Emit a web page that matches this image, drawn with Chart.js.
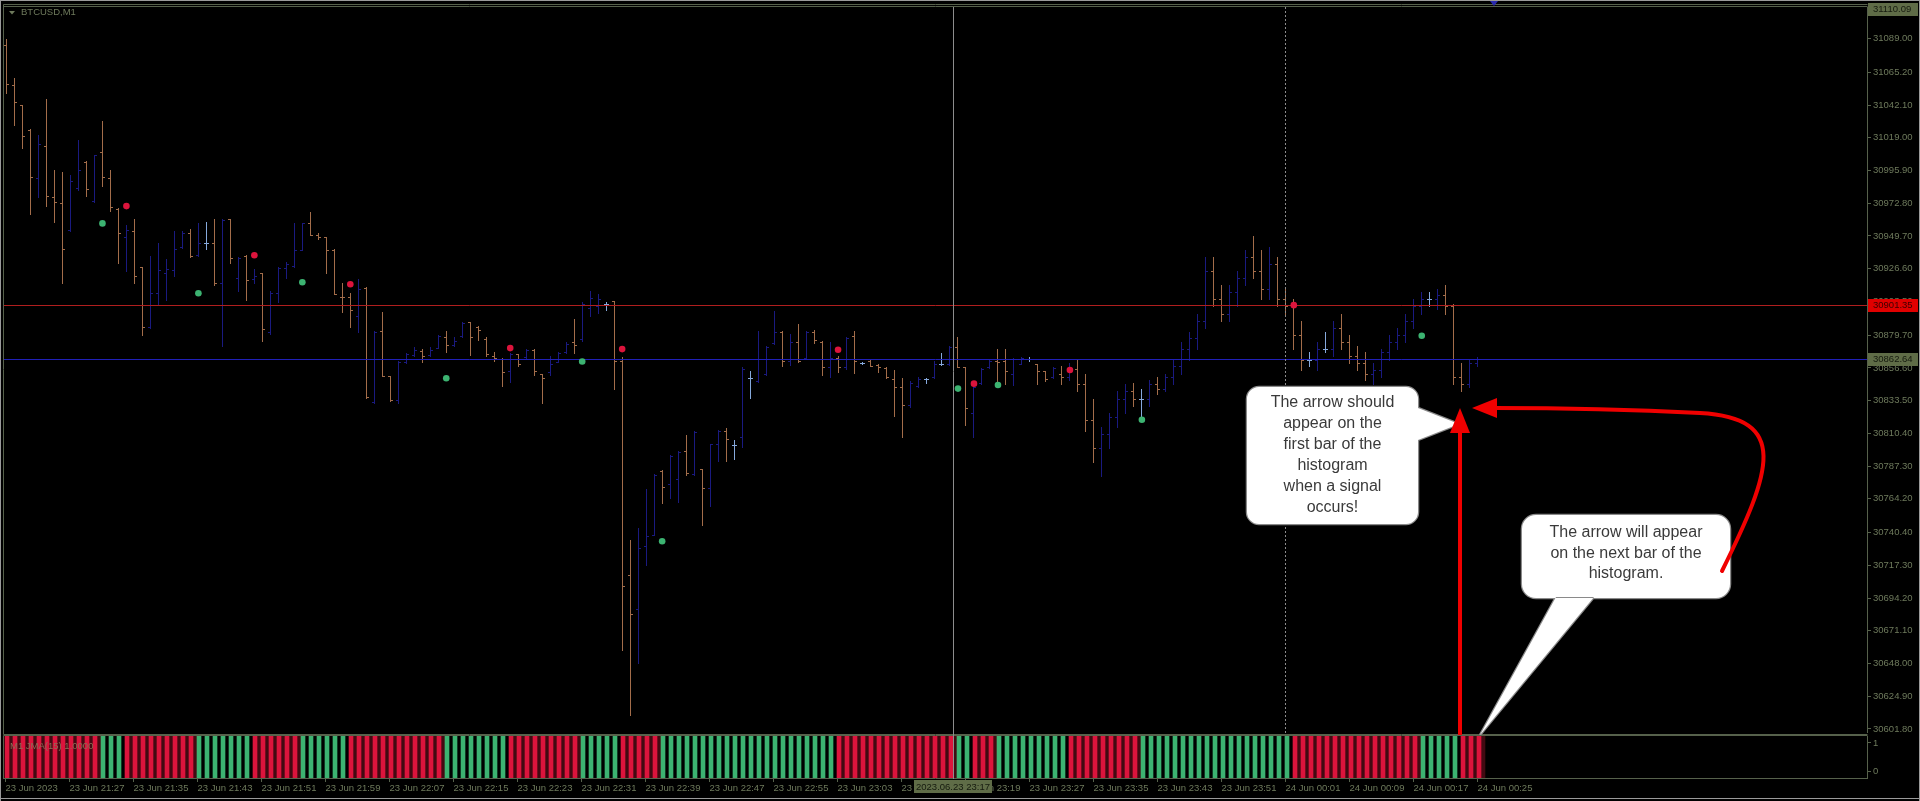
<!DOCTYPE html>
<html>
<head>
<meta charset="utf-8">
<title>BTCUSD,M1</title>
<script src="https://cdn.jsdelivr.net/npm/chart.js@4.4.1/dist/chart.umd.min.js"></script>
<style>
  html, body { margin: 0; padding: 0; background: #000; overflow: hidden; }
  #wrap { position: relative; width: 1920px; height: 801px; background: #000; }
  #wrap canvas { position: absolute; left: 0; }
  #main { top: 0; }
  #hist { top: 734px; }
</style>
</head>
<body>
<div id="wrap">
  <canvas id="main" width="1920" height="736"></canvas>
  <canvas id="hist" width="1920" height="67"></canvas>
</div>
<script>
// M1 bars, index 0 = 23 Jun 21:19
var opens = [
 31084.6,31056.4,31041.8,31024.3,30990.3,31013.0,30977.1,30973.2,30953.7,30983.7,
 31002.0,30974.3,31009.1,30990.3,30968.9,30949.2,30953.2,30928.1,30885.2,30909.8,
 30923.4,30925.7,30942.2,30952.0,30936.3,30945.0,30944.5,30916.4,30961.4,30919.9,
 30935.6,30919.2,30923.9,30881.7,30909.8,30927.4,30928.5,30939.8,30958.6,30950.2,
 30949.2,30939.8,30907.0,30906.3,30892.9,30913.3,30832.4,30882.8,30850.7,30834.2,
 30861.0,30865.7,30868.7,30865.7,30870.4,30878.2,30872.7,30879.3,30889.1,30885.6,
 30877.0,30865.2,30862.9,30854.2,30866.4,30864.1,30869.4,30852.3,30854.0,30861.0,
 30868.0,30874.6,30876.8,30898.6,30900.4,30901.6,30903.7,30861.7,30710.4,30686.5,
 30730.6,30738.5,30783.6,30774.9,30778.4,30797.7,30782.0,30785.0,30771.9,30802.6,
 30812.4,30802.4,30807.8,30849.3,30847.6,30852.3,30874.1,30881.7,30861.7,30874.6,
 30863.4,30881.7,30874.6,30857.0,30863.4,30857.0,30879.3,30860.1,30861.7,30858.7,
 30856.3,30848.8,30843.0,30830.5,30843.7,30848.8,30850.0,30859.4,30859.4,30871.1,
 30857.0,30824.9,30846.0,30857.0,30861.7,30861.7,30852.3,30859.6,30862.9,30859.4,
 30854.7,30850.0,30852.0,30850.0,30856.0,30845.0,30820.0,30800.0,30810.0,30822.0,
 30835.0,30840.0,30835.0,30835.0,30845.0,30842.0,30850.0,30858.0,30870.0,30878.0,
 30890.0,30925.0,30905.0,30895.0,30910.0,30920.0,30935.0,30925.0,30912.0,30930.0,
 30905.0,30900.0,30880.0,30862.0,30862.0,30870.0,30870.0,30885.0,30875.0,30865.0,
 30860.0,30852.0,30855.0,30868.0,30875.0,30880.0,30890.0,30900.0,30905.0,30905.0,
 30908.0,30900.0,30850.0,30845.0,30860.0
];
var highs = [
 31088.8,31061.1,31042.3,31025.5,31021.2,31046.6,30996.6,30995.0,30992.4,31017.7,
 31002.4,31007.2,31030.6,30996.6,30969.2,30957.2,30961.9,30928.1,30935.6,30945.0,
 30933.3,30953.2,30953.2,30954.9,30959.1,30959.8,30961.9,30961.4,30961.9,30935.2,
 30936.1,30926.2,30923.9,30911.0,30928.1,30931.4,30958.6,30959.1,30966.8,30952.0,
 30949.2,30940.8,30916.4,30909.3,30919.2,30913.8,30882.8,30896.2,30850.7,30861.7,
 30867.1,30871.1,30869.9,30871.1,30879.8,30882.8,30878.2,30888.7,30889.1,30886.3,
 30878.2,30867.6,30863.4,30867.1,30866.4,30869.9,30869.9,30852.3,30865.2,30867.6,
 30874.6,30891.0,30903.2,30911.0,30908.6,30903.2,30903.9,30864.3,30735.0,30743.3,
 30771.4,30782.0,30784.3,30795.3,30797.7,30809.4,30812.4,30785.5,30803.1,30812.9,
 30814.3,30805.4,30857.0,30854.7,30882.8,30871.8,30896.9,30882.8,30880.5,30887.5,
 30882.4,30883.5,30875.8,30874.6,30864.8,30878.2,30882.4,30860.8,30862.2,30859.4,
 30857.0,30855.4,30849.3,30847.6,30850.0,30849.5,30861.7,30867.1,30872.2,30878.2,
 30857.0,30843.7,30856.3,30862.9,30869.9,30869.9,30863.4,30864.1,30864.1,30859.4,
 30854.7,30857.0,30858.0,30860.0,30862.0,30852.0,30835.0,30815.0,30825.0,30840.0,
 30845.0,30846.0,30842.0,30848.0,30850.0,30852.0,30862.0,30875.0,30882.0,30895.0,
 30935.0,30935.0,30915.0,30915.0,30925.0,30940.0,30950.0,30940.0,30942.0,30935.0,
 30912.0,30905.0,30890.0,30868.0,30875.0,30882.0,30890.0,30895.0,30880.0,30872.0,
 30868.0,30860.0,30870.0,30880.0,30885.0,30895.0,30905.0,30910.0,30910.0,30912.0,
 30915.0,30902.0,30860.0,30862.0,30864.0
];
var lows = [
 31050.8,31028.3,31011.9,30964.9,30977.1,30970.8,30959.5,30916.2,30953.2,30982.5,
 30977.8,30973.6,30985.3,30967.3,30930.9,30925.0,30916.2,30879.8,30884.5,30901.6,
 30904.6,30921.5,30941.5,30935.2,30935.6,30940.3,30915.0,30871.8,30930.4,30911.0,
 30904.6,30916.4,30875.8,30880.5,30902.8,30920.4,30928.1,30939.8,30950.2,30947.3,
 30923.4,30908.6,30895.8,30885.2,30882.1,30835.2,30831.9,30850.7,30833.5,30831.9,
 30860.4,30865.0,30861.0,30865.2,30870.4,30868.0,30872.2,30878.2,30865.9,30876.5,
 30865.2,30861.3,30843.7,30846.9,30857.8,30863.4,30851.8,30831.9,30851.6,30860.6,
 30867.1,30867.1,30875.8,30893.5,30895.3,30897.6,30841.8,30657.6,30611.9,30648.2,
 30717.4,30738.5,30761.6,30764.9,30762.0,30780.8,30781.3,30745.6,30759.2,30790.6,
 30790.6,30792.0,30800.7,30835.2,30846.9,30851.6,30873.4,30857.8,30858.7,30861.0,
 30862.9,30874.1,30851.6,30850.0,30854.0,30855.9,30853.0,30859.4,30857.8,30853.5,
 30849.3,30823.0,30807.8,30828.9,30843.0,30846.0,30849.3,30858.7,30858.7,30857.0,
 30816.4,30807.8,30845.3,30856.3,30846.0,30845.3,30844.6,30859.4,30861.5,30845.3,
 30847.6,30849.3,30845.0,30848.0,30840.0,30812.0,30790.0,30780.0,30800.0,30815.0,
 30825.0,30830.0,30820.0,30830.0,30838.0,30840.0,30845.0,30852.0,30862.0,30870.0,
 30885.0,30900.0,30890.0,30890.0,30900.0,30915.0,30920.0,30905.0,30905.0,30900.0,
 30895.0,30870.0,30855.0,30858.0,30855.0,30868.0,30865.0,30870.0,30860.0,30855.0,
 30848.0,30845.0,30850.0,30862.0,30870.0,30875.0,30885.0,30895.0,30900.0,30898.0,
 30895.0,30845.0,30840.0,30843.0,30858.0
];
var closes = [
 31057.1,31044.2,31020.3,30991.5,31014.9,30977.8,30973.6,30940.8,30988.4,30996.6,
 30983.0,31006.7,30991.5,30970.3,30951.6,30953.7,30921.5,30885.2,30909.8,30925.7,
 30926.2,30940.8,30952.0,30935.6,30945.0,30945.0,30916.4,30960.9,30934.0,30934.5,
 30918.7,30921.5,30884.0,30909.8,30927.4,30929.7,30939.8,30958.6,30950.2,30949.2,
 30939.8,30908.6,30906.3,30897.6,30912.2,30835.9,30882.1,30850.7,30834.2,30861.0,
 30866.1,30869.2,30865.2,30869.4,30878.9,30873.0,30875.8,30888.2,30878.2,30883.5,
 30866.4,30863.6,30853.5,30866.4,30859.4,30869.4,30854.2,30849.5,30859.4,30866.9,
 30873.4,30873.0,30901.6,30905.6,30905.1,30901.6,30861.7,30702.9,30682.7,30729.2,
 30738.1,30781.3,30772.6,30794.8,30797.2,30782.7,30811.7,30771.9,30802.6,30812.4,
 30806.1,30802.4,30855.9,30849.3,30862.9,30871.1,30881.7,30861.7,30874.6,30861.7,
 30881.7,30876.5,30857.0,30863.4,30857.0,30877.5,30861.7,30860.1,30858.2,30857.0,
 30850.0,30843.0,30830.5,30846.0,30848.8,30848.8,30859.4,30859.4,30871.1,30857.5,
 30828.2,30843.0,30855.9,30861.7,30861.0,30854.7,30862.9,30863.4,30862.9,30854.7,
 30848.8,30856.3,30850.0,30856.0,30845.0,30820.0,30800.0,30810.0,30822.0,30835.0,
 30840.0,30835.0,30835.0,30845.0,30842.0,30850.0,30858.0,30870.0,30878.0,30890.0,
 30925.0,30905.0,30895.0,30910.0,30920.0,30935.0,30925.0,30912.0,30930.0,30905.0,
 30900.0,30880.0,30862.0,30862.0,30870.0,30870.0,30885.0,30875.0,30865.0,30860.0,
 30852.0,30855.0,30868.0,30875.0,30880.0,30890.0,30900.0,30905.0,30905.0,30908.0,
 30900.0,30850.0,30845.0,30860.0,30862.64
];

// histogram colour per bar: R = sell state, G = buy state
var histSignal = (
  'RRRRRRRRRRRR' + 'GGG' + 'RRRRRRRRR' + 'GGGGGGG' + 'RRRRRR' + 'GGGGGG' +
  'RRRRRRRRRRRR' + 'GGGGGGGG' + 'RRRRRRRRR' + 'GGGGG' + 'RRRRR' +
  'GGGGGGGGGG' + 'GGGGGGGGGG' + 'GG' +
  'RRRRRRRRRR' + 'RRRRR' + 'GG' + 'RRR' + 'GGGGGGGGG' + 'RRRRRRRRR' +
  'GGGGGGGGGG' + 'GGGGGGGGG' + 'RRRRRRRRRR' + 'RRRRRR' + 'GGGGG' + 'RRR'
).split('');

// signal dots on the price chart
var sigIdx   = [12, 15, 24, 31, 37, 43, 55, 63, 72, 77, 82, 104, 119, 121, 124, 133, 142, 161, 177];
var sigPrice = [30958.6, 30970.8, 30909.3, 30936.1, 30917.1, 30915.7, 30849.3, 30870.6, 30861.1, 30869.9,
                30734.3, 30869.4, 30842.0, 30845.5, 30844.6, 30855.1, 30820.0, 30900.9, 30879.3];
var sigType  = ['G','R','G','R','G','R','G','R','G','R','G','R','G','R','G','R','G','R','G'];

var priceTicks = [31089.00, 31065.20, 31042.10, 31019.00, 30995.90, 30972.80, 30949.70, 30926.60,
                  30903.50, 30879.70, 30856.60, 30833.50, 30810.40, 30787.30, 30764.20, 30740.40,
                  30717.30, 30694.20, 30671.10, 30648.00, 30624.90, 30601.80];
var timeTickIdx = [0, 8, 16, 24, 32, 40, 48, 56, 64, 72, 80, 88, 96, 104, 112, 120,
                   128, 136, 144, 152, 160, 168, 176, 184];
var timeTickLabels = ['23 Jun 2023', '23 Jun 21:27', '23 Jun 21:35', '23 Jun 21:43', '23 Jun 21:51',
  '23 Jun 21:59', '23 Jun 22:07', '23 Jun 22:15', '23 Jun 22:23', '23 Jun 22:31', '23 Jun 22:39',
  '23 Jun 22:47', '23 Jun 22:55', '23 Jun 23:03', '23 Jun 23:11', '23 Jun 23:19', '23 Jun 23:27',
  '23 Jun 23:35', '23 Jun 23:43', '23 Jun 23:51', '24 Jun 00:01', '24 Jun 00:09', '24 Jun 00:17',
  '24 Jun 00:25'];

var redLevel = 30901.35;
var bidLevel = 30862.64;
var topPrice = 31110.09;
var crossLabel = '2023.06.23 23:17';

var FG = '#6e7a5c', FRAME = '#56614b', BOX = '#5f6c47', BOXTXT = '#151a0e';
var UP = '#1a1a80', DN = '#a36d4a', DOJI = '#86a9dc';
var HRED = '#dc143c', HGREEN = '#3cb371', HRED_GAP = '#420a12';
var FONT = '"Liberation Sans", Arial, sans-serif';

Chart.defaults.font.family = FONT;
Chart.defaults.font.size = 9.5;
Chart.defaults.color = FG;

var XMIN = -0.3125, XMAX = 232.6875;

// keep the plot areas exactly where the terminal puts them
function noPad(s) { s.paddingTop = 0; s.paddingBottom = 0; s.paddingLeft = 0; s.paddingRight = 0; }

var ohlcPlugin = {
  id: 'ohlc',
  beforeDatasetsDraw: function (chart) {
    var ctx = chart.ctx, x = chart.scales.x, y = chart.scales.y, a = chart.chartArea;
    ctx.save();
    ctx.beginPath();
    ctx.rect(a.left, a.top, a.right - a.left, a.bottom - a.top);
    ctx.clip();
    for (var i = 0; i < opens.length; i++) {
      var px = Math.floor(x.getPixelForValue(i));
      var yh = Math.round(y.getPixelForValue(highs[i]));
      var yl = Math.round(y.getPixelForValue(lows[i]));
      var yo = Math.round(y.getPixelForValue(opens[i]));
      var yc = Math.round(y.getPixelForValue(closes[i]));
      ctx.fillStyle = closes[i] > opens[i] ? UP : (closes[i] < opens[i] ? DN : DOJI);
      ctx.fillRect(px, yh, 1, Math.max(1, yl - yh + 1));
      ctx.fillRect(px - 2, yo, 2, 1);
      ctx.fillRect(px + 1, yc, 2, 1);
    }
    // horizontal levels
    var yr = Math.round(y.getPixelForValue(redLevel)) + 0.5;
    var yb = Math.round(y.getPixelForValue(bidLevel)) + 0.5;
    ctx.lineWidth = 1;
    ctx.strokeStyle = '#b01e1e';
    ctx.beginPath(); ctx.moveTo(a.left, yr); ctx.lineTo(a.right, yr); ctx.stroke();
    ctx.strokeStyle = '#2020b8';
    ctx.beginPath(); ctx.moveTo(a.left, yb); ctx.lineTo(a.right, yb); ctx.stroke();
    ctx.restore();
  }
};

function priceBox(ctx, yPix, text, fill, color) {
  ctx.fillStyle = fill;
  ctx.fillRect(1868, Math.round(yPix) - 6, 50, 13);
  ctx.fillStyle = color;
  ctx.textAlign = 'left';
  ctx.textBaseline = 'middle';
  ctx.fillText(text, 1873, Math.round(yPix) + 0.5);
}

function callout(ctx, box, tail, lines, lineTop, lineH) {
  ctx.save();
  ctx.beginPath();
  ctx.roundRect(box.x, box.y, box.w, box.h, box.r);
  ctx.moveTo(tail[0][0], tail[0][1]);
  ctx.lineTo(tail[1][0], tail[1][1]);
  ctx.lineTo(tail[2][0], tail[2][1]);
  ctx.closePath();
  ctx.lineWidth = 2.5;
  ctx.strokeStyle = '#8a8a8a';
  ctx.stroke();
  ctx.fillStyle = '#ffffff';
  ctx.fill();
  ctx.fillStyle = '#3a3a3a';
  ctx.font = '16px ' + FONT;
  ctx.textAlign = 'center';
  ctx.textBaseline = 'middle';
  for (var i = 0; i < lines.length; i++) {
    ctx.fillText(lines[i], box.x + box.w / 2, lineTop + i * lineH);
  }
  ctx.restore();
}

var overlayMain = {
  id: 'overlayMain',
  afterDraw: function (chart) {
    var ctx = chart.ctx, y = chart.scales.y;
    ctx.save();
    // window borders
    ctx.fillStyle = '#9a9a9a';
    ctx.fillRect(0, 0, 1920, 1);
    ctx.fillRect(0, 0, 1, 736);
    ctx.fillRect(1919, 0, 1, 736);
    ctx.strokeStyle = FRAME;
    ctx.lineWidth = 1;
    ctx.beginPath();
    ctx.moveTo(3.5, 4.5); ctx.lineTo(1867.5, 4.5);
    ctx.moveTo(3.5, 6.5); ctx.lineTo(1867.5, 6.5);
    ctx.moveTo(3.5, 4.5); ctx.lineTo(3.5, 734.5);
    ctx.moveTo(3.5, 734.5); ctx.lineTo(1867.5, 734.5);
    ctx.stroke();

    // title
    ctx.fillStyle = FG;
    ctx.beginPath(); ctx.moveTo(9, 11); ctx.lineTo(15, 11); ctx.lineTo(12, 14.5); ctx.closePath(); ctx.fill();
    ctx.font = '9.5px ' + FONT;
    ctx.textAlign = 'left'; ctx.textBaseline = 'middle';
    ctx.fillText('BTCUSD,M1', 21, 12.5);

    // crosshair and period separator
    ctx.strokeStyle = '#8c8c8c';
    ctx.beginPath(); ctx.moveTo(953.5, 7); ctx.lineTo(953.5, 736); ctx.stroke();
    var xs = Math.floor(chart.scales.x.getPixelForValue(160)) + 0.5;
    ctx.setLineDash([2, 2]);
    ctx.beginPath(); ctx.moveTo(xs, 7); ctx.lineTo(xs, 734); ctx.stroke();
    ctx.setLineDash([]);

    // price labels on the axis
    ctx.font = '9.5px ' + FONT;
    priceBox(ctx, y.getPixelForValue(topPrice), topPrice.toFixed(2), BOX, BOXTXT);
    priceBox(ctx, y.getPixelForValue(redLevel), redLevel.toFixed(2), '#e00000', '#3a0000');
    priceBox(ctx, y.getPixelForValue(bidLevel), bidLevel.toFixed(2), BOX, BOXTXT);

    // small object marker at top
    ctx.fillStyle = '#2a2ab0';
    ctx.beginPath(); ctx.moveTo(1490, 1); ctx.lineTo(1498, 1); ctx.lineTo(1494, 6); ctx.closePath(); ctx.fill();

    // annotations pasted on the screenshot
    callout(ctx, {x: 1247, y: 387, w: 171, h: 137, r: 12},
      [[1418, 408], [1459, 424], [1418, 440]],
      ['The arrow should', 'appear on the', 'first bar of the', 'histogram', 'when a signal', 'occurs!'],
      403, 21);
    callout(ctx, {x: 1522, y: 515, w: 208, h: 83, r: 14},
      [[1556, 597], [1480, 735], [1594, 597]],
      ['The arrow will appear', 'on the next bar of the', 'histogram.'],
      533, 20.5);

    ctx.fillStyle = '#f00000';
    ctx.strokeStyle = '#f00000';
    // vertical arrow
    ctx.fillRect(1458, 430, 4, 306);
    ctx.beginPath(); ctx.moveTo(1460, 408); ctx.lineTo(1450, 433); ctx.lineTo(1470, 433); ctx.closePath(); ctx.fill();
    // curved arrow
    ctx.lineWidth = 4;
    ctx.lineCap = 'round';
    ctx.beginPath();
    ctx.moveTo(1722, 571);
    ctx.bezierCurveTo(1772, 470, 1790, 418, 1700, 413);
    ctx.quadraticCurveTo(1600, 408, 1494, 408);
    ctx.stroke();
    ctx.beginPath(); ctx.moveTo(1472, 408); ctx.lineTo(1497, 398); ctx.lineTo(1497, 418); ctx.closePath(); ctx.fill();
    ctx.restore();
  }
};

var overlayHist = {
  id: 'overlayHist',
  afterDraw: function (chart) {
    var ctx = chart.ctx;
    ctx.save();
    ctx.fillStyle = '#9a9a9a';
    ctx.fillRect(0, 0, 1, 67);
    ctx.fillRect(1919, 0, 1, 67);
    ctx.fillRect(0, 64, 1920, 1);
    ctx.strokeStyle = FRAME;
    ctx.lineWidth = 1;
    ctx.beginPath();
    ctx.moveTo(3.5, 1.5); ctx.lineTo(1867.5, 1.5);
    ctx.moveTo(3.5, 1.5); ctx.lineTo(3.5, 44.5);
    ctx.stroke();
    ctx.font = '9.5px ' + FONT;
    ctx.textAlign = 'left'; ctx.textBaseline = 'middle';
    ctx.fillStyle = '#8c6c55';
    ctx.fillText('M1 JMA(15) 1.0000', 10, 12);
    // crosshair
    ctx.strokeStyle = '#8c8c8c';
    ctx.beginPath(); ctx.moveTo(953.5, 0); ctx.lineTo(953.5, 45); ctx.stroke();
    ctx.fillStyle = BOX;
    ctx.fillRect(914, 46, 78, 13);
    ctx.fillStyle = BOXTXT;
    ctx.textAlign = 'center';
    ctx.fillText(crossLabel, 953, 53);
    ctx.restore();
  }
};

new Chart(document.getElementById('main').getContext('2d'), {
  type: 'scatter',
  data: {
    datasets: [{
      data: sigIdx.map(function (v, k) { return {x: v, y: sigPrice[k]}; }),
      pointRadius: 3.3,
      pointBorderWidth: 0,
      pointBackgroundColor: sigType.map(function (t) { return t === 'G' ? HGREEN : HRED; })
    }]
  },
  options: {
    responsive: false,
    animation: false,
    events: [],
    layout: {padding: {left: 3, top: 7, right: 0, bottom: 2}},
    plugins: {legend: {display: false}, tooltip: {enabled: false}},
    scales: {
      x: {type: 'linear', min: XMIN, max: XMAX, display: false, offset: false},
      y: {
        position: 'right',
        min: 30599.68,
        max: 31111.30,
        afterFit: function (s) { s.width = 53; noPad(s); },
        afterBuildTicks: function (s) { s.ticks = priceTicks.map(function (v) { return {value: v}; }); },
        ticks: {
          autoSkip: false,
          padding: 2,
          callback: function (v) { return Number(v).toFixed(2); }
        },
        grid: {drawOnChartArea: false, color: FRAME, tickLength: 4},
        border: {color: FRAME}
      }
    }
  },
  plugins: [ohlcPlugin, overlayMain]
});

new Chart(document.getElementById('hist').getContext('2d'), {
  type: 'bar',
  data: {
    datasets: [{
      data: histSignal.map(function (s, i) { return {x: i, y: 1}; }),
      backgroundColor: histSignal.map(function (s) { return s === 'G' ? HGREEN : HRED; }),
      barThickness: 4,
      xAxisID: 'xh',
      yAxisID: 'yb',
      order: 1
    }, {
      // dark band between neighbouring sell bars
      data: histSignal.map(function (s, i) { return {x: i, y: s === 'R' ? 1 : null}; }),
      backgroundColor: HRED_GAP,
      barThickness: 4,
      xAxisID: 'xg',
      yAxisID: 'yb',
      order: 2
    }]
  },
  options: {
    responsive: false,
    animation: false,
    events: [],
    layout: {padding: {left: 3, top: 2, right: 0, bottom: 0}},
    plugins: {legend: {display: false}, tooltip: {enabled: false}},
    datasets: {bar: {grouped: false}},
    scales: {
      x: {
        type: 'linear', min: XMIN, max: XMAX, position: 'bottom', offset: false,
        afterFit: function (s) { s.height = 23; noPad(s); },
        afterBuildTicks: function (s) { s.ticks = timeTickIdx.map(function (v) { return {value: v}; }); },
        ticks: {
          align: 'start', autoSkip: false, maxRotation: 0, padding: 1,
          callback: function (v) { var k = timeTickIdx.indexOf(v); return k < 0 ? '' : timeTickLabels[k]; }
        },
        grid: {drawOnChartArea: false, color: FRAME, tickLength: 4, offset: false},
        border: {color: FRAME}
      },
      xh: {type: 'linear', min: -0.5, max: 232.5, display: false, offset: false, grid: {offset: false}},
      xg: {type: 'linear', min: -1, max: 232, display: false, offset: false, grid: {offset: false}},
      yb: {min: 0, max: 1, display: false},
      yl: {
        position: 'right', min: -0.25, max: 1.25,
        afterFit: function (s) { s.width = 53; noPad(s); },
        afterBuildTicks: function (s) { s.ticks = [{value: 1}, {value: 0}]; },
        ticks: {padding: 2, callback: function (v) { return String(v); }},
        grid: {drawOnChartArea: false, color: FRAME, tickLength: 4},
        border: {color: FRAME}
      }
    }
  },
  plugins: [overlayHist]
});
</script>
</body>
</html>
